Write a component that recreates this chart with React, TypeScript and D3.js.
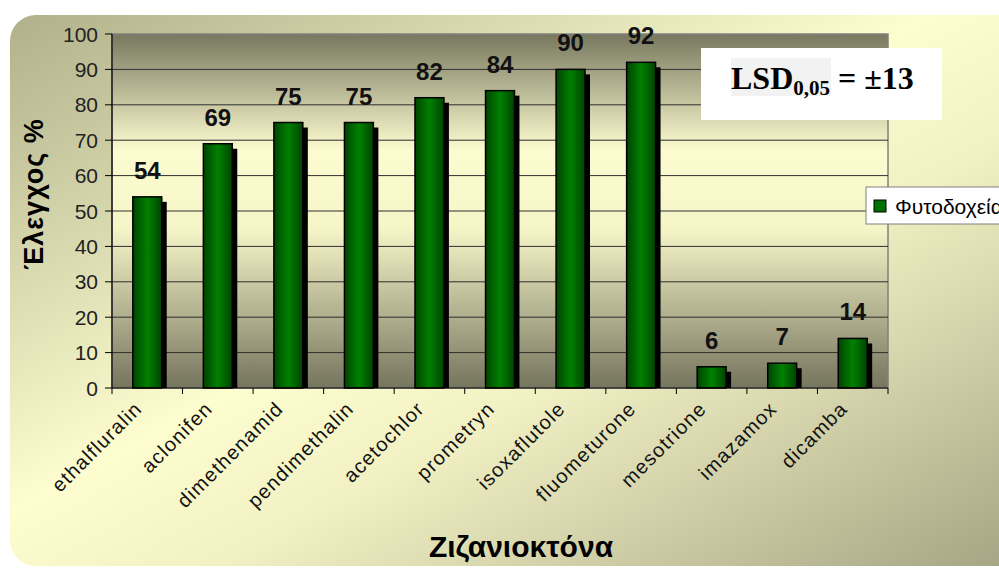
import React from "react";
import * as d3 from "d3";

const categories = [
  "ethalfluralin", "aclonifen", "dimethenamid", "pendimethalin", "acetochlor",
  "prometryn", "isoxaflutole", "fluometurone", "mesotrione", "imazamox", "dicamba",
];
const values = [54, 69, 75, 75, 82, 84, 90, 92, 6, 7, 14];
const yTicks = [0, 10, 20, 30, 40, 50, 60, 70, 80, 90, 100];
const seriesName = "Φυτοδοχεία";

const W = 999;
const H = 569;
const plot = { left: 112, top: 34, right: 888, bottom: 388 };
const sans = "Arial, 'Liberation Sans', sans-serif";
const serif = "'Times New Roman', 'Liberation Serif', serif";

const App = () => {
  const x = d3.scaleBand().domain(categories).range([plot.left, plot.right]).paddingInner(0).paddingOuter(0);
  const y = d3.scaleLinear().domain([0, 100]).range([plot.bottom, plot.top]);
  const bw = x.bandwidth() * 0.41;
  const shadow = 5;

  return (
    <svg width={W} height={H} style={{ position: "absolute", left: 0, top: 0 }}>
      <defs>
        <linearGradient id="outer" x1="0" y1="0" x2="1" y2="1">
          <stop offset="0" stopColor="#b0b08a" />
          <stop offset="0.45" stopColor="#fdfdd0" />
          <stop offset="0.6" stopColor="#f2f1c4" />
          <stop offset="1" stopColor="#a4a382" />
        </linearGradient>
        <linearGradient id="plotbg" x1="0" y1="0" x2="0" y2="1">
          <stop offset="0" stopColor="#78785f" />
          <stop offset="0.33" stopColor="#fdfcd0" />
          <stop offset="0.55" stopColor="#f6f5c8" />
          <stop offset="1" stopColor="#76755e" />
        </linearGradient>
        <linearGradient id="bar" x1="0" y1="0" x2="1" y2="0">
          <stop offset="0" stopColor="#004400" />
          <stop offset="0.5" stopColor="#008000" />
          <stop offset="1" stopColor="#004400" />
        </linearGradient>
      </defs>

      <rect x={0} y={0} width={W} height={H} fill="#ffffff" />
      <rect x={10} y={15} width={1020} height={551} rx={26} fill="url(#outer)" />

      <rect x={plot.left} y={plot.top} width={plot.right - plot.left} height={plot.bottom - plot.top}
        fill="url(#plotbg)" stroke="#808080" strokeWidth={1.5} />

      {yTicks.map((t) => (
        <g key={t}>
          {t > 0 && t < 100 && (
            <line x1={plot.left} x2={plot.right} y1={y(t)} y2={y(t)} stroke="#2e2e2e" strokeWidth={1} />
          )}
          <line x1={plot.left - 7} x2={plot.left} y1={y(t)} y2={y(t)} stroke="#000" strokeWidth={1} />
          <text x={plot.left - 14} y={y(t)} dy="0.36em" textAnchor="end" fontFamily={sans} fontSize={21} fill="#222">
            {t}
          </text>
        </g>
      ))}

      {categories.map((c, i) => {
        const cx = (x(c) as number) + x.bandwidth() / 2;
        const v = values[i];
        return (
          <g key={c}>
            <rect x={cx - bw / 2 + shadow} y={y(v) + shadow} width={bw} height={plot.bottom - y(v) - shadow} fill="#000" />
            <rect x={cx - bw / 2} y={y(v)} width={bw} height={plot.bottom - y(v)} fill="url(#bar)" stroke="#000" strokeWidth={1.5} />
            <text x={cx} y={y(v) - 18} textAnchor="middle" fontFamily={sans} fontWeight="bold" fontSize={24} fill="#111">
              {v}
            </text>
            <text transform={`translate(${cx - 4},${plot.bottom + 22}) rotate(-45)`} textAnchor="end"
              fontFamily={sans} fontSize={20} letterSpacing={1.2} fill="#111">
              {c}
            </text>
          </g>
        );
      })}

      <line x1={plot.left} x2={plot.left} y1={plot.top} y2={plot.bottom} stroke="#000" strokeWidth={1.2} />
      <line x1={plot.left} x2={plot.right} y1={plot.bottom} y2={plot.bottom} stroke="#000" strokeWidth={1.2} />
      {categories.concat([""]).map((c, i) => {
        const tx = i < categories.length ? (x(c) as number) : plot.right;
        return <line key={i} x1={tx} x2={tx} y1={plot.bottom} y2={plot.bottom + 6} stroke="#000" strokeWidth={1} />;
      })}

      <text transform="translate(43,194) rotate(-90)" textAnchor="middle" fontFamily={sans} fontWeight="bold"
        fontSize={27} letterSpacing={1} fill="#000">
        Έλεγχος %
      </text>
      <text x={521} y={557} textAnchor="middle" fontFamily={sans} fontWeight="bold" fontSize={30} fill="#000">
        Ζιζανιοκτόνα
      </text>

      <rect x={701} y={48} width={241} height={72} fill="#ffffff" />
      <rect x={731} y={58} width={100} height={38} fill="#f2f2f2" />
      <text x={731} y={89} fontFamily={serif} fontWeight="bold" fontSize={32} fill="#000">
        LSD<tspan fontSize={21} dy={6}>0,05</tspan><tspan dy={-6}> = ±13</tspan>
      </text>

      <rect x={866} y={187} width={150} height={37} fill="#ffffff" stroke="#808080" strokeWidth={1} />
      <rect x={874} y={200} width={12} height={12} fill="#007000" stroke="#000" strokeWidth={1} />
      <text x={895} y={206} dy="0.36em" fontFamily={sans} fontSize={21} fill="#000">
        {seriesName}
      </text>
    </svg>
  );
};

export default App;
